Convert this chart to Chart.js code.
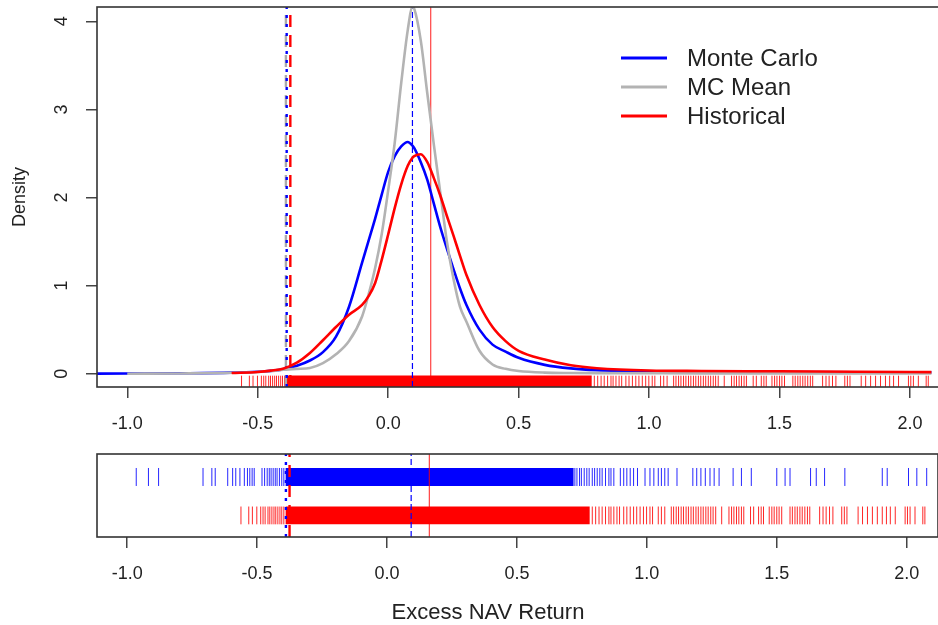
<!DOCTYPE html>
<html>
<head>
<meta charset="utf-8">
<script src="https://cdn.jsdelivr.net/npm/chart.js@4.4.0/dist/chart.umd.min.js"></script>
<style>
  html, body { margin: 0; padding: 0; background: #fff; overflow: hidden; }
  #densityChart { position: absolute; left: 0; top: 0; }
  #rugChart { position: absolute; left: 0; top: 440px; }
</style>
</head>
<body>
<canvas id="densityChart" width="938" height="440"></canvas>
<canvas id="rugChart" width="938" height="185"></canvas>
<script>
// Series names and colours
const seriesNames = ['Monte Carlo', 'MC Mean', 'Historical'];
const seriesColors = ['#0000ff', '#b3b3b3', '#ff0000'];

// Density curves
const densityX = [-1.2, -1.0, -0.8, -0.6, -0.5, -0.45, -0.4, -0.35, -0.3, -0.25, -0.2, -0.15, -0.1, -0.075, -0.05, -0.025,
  0, 0.025, 0.05, 0.075, 0.093, 0.1, 0.125, 0.15, 0.175, 0.2, 0.225, 0.25, 0.275, 0.3, 0.35, 0.4, 0.45, 0.5,
  0.6, 0.7, 0.8, 1.0, 1.2, 1.5, 1.8, 2.1];
const monteCarloDensity = [0, 0.002, 0.005, 0.012, 0.022, 0.032, 0.052, 0.09, 0.15, 0.245, 0.42, 0.76, 1.26, 1.51, 1.76, 2.03,
  2.29, 2.47, 2.58, 2.63, 2.59, 2.56, 2.40, 2.20, 1.93, 1.66, 1.42, 1.19, 0.97, 0.78, 0.50, 0.33, 0.25, 0.18,
  0.10, 0.06, 0.04, 0.025, 0.021, 0.018, 0.016, 0.015];
const mcMeanDensity = [null, 0.0, 0.003, 0.01, 0.02, 0.03, 0.045, 0.055, 0.065, 0.12, 0.22, 0.37, 0.65, 0.90, 1.20, 1.58,
  2.08, 2.62, 3.30, 3.90, 4.16, 4.14, 3.78, 3.18, 2.60, 2.05, 1.50, 1.08, 0.76, 0.59, 0.26, 0.105, 0.055, 0.03,
  0.012, 0.008, 0.006, 0.005, 0.004, 0.004, 0.003, 0.003];
const historicalDensity = [null, null, null, 0.008, 0.02, 0.035, 0.06, 0.125, 0.235, 0.38, 0.53, 0.67, 0.78, 0.88, 1.03, 1.29,
  1.58, 1.88, 2.15, 2.36, 2.45, 2.47, 2.49, 2.40, 2.22, 2.02, 1.79, 1.57, 1.34, 1.12, 0.78, 0.53, 0.37, 0.26,
  0.16, 0.095, 0.062, 0.036, 0.031, 0.027, 0.022, 0.018];

// Reference lines (VaR and means)
const mcVaR = -0.389;
const mcMeanVaR = -0.392;
const histVaR = -0.375;
const mcMeanReturn = 0.093;
const histMeanReturn = 0.163;

// Rug ticks: sparse ticks read one by one, dense middle as a solid band
const mcRug = [-0.965, -0.918, -0.879, -0.708, -0.674, -0.661, -0.613, -0.594, -0.582, -0.566, -0.549, -0.537, -0.528,
  -0.519, -0.511, -0.481, -0.471, -0.461, -0.453, -0.446, -0.438, -0.430, -0.423, -0.414, -0.405, -0.397,
  0.723, 0.731, 0.741, 0.748, 0.759, 0.769, 0.778, 0.790, 0.799, 0.809, 0.819, 0.828, 0.841, 0.854, 0.862, 0.873,
  0.898, 0.911, 0.923, 0.936, 0.949, 0.964, 0.993, 1.012, 1.027, 1.044, 1.056, 1.069, 1.082, 1.116, 1.177, 1.192,
  1.208, 1.225, 1.243, 1.259, 1.278, 1.332, 1.364, 1.402, 1.500, 1.532, 1.551, 1.630, 1.652, 1.684, 1.762, 1.906,
  1.925, 2.007, 2.039, 2.077];
const mcRugDense = [-0.39, 0.718];
const histRug = [-0.562, -0.532, -0.518, -0.501, -0.486, -0.477, -0.469, -0.458, -0.451, -0.443, -0.435, -0.428,
  -0.420, -0.412, -0.405, -0.397,
  0.790, 0.803, 0.816, 0.828, 0.841, 0.854, 0.862, 0.873, 0.885, 0.895, 0.911, 0.923, 0.936, 0.949, 0.961, 0.974,
  0.987, 0.999, 1.012, 1.022, 1.044, 1.056, 1.069, 1.094, 1.103, 1.113, 1.122, 1.132, 1.141, 1.151, 1.160, 1.170,
  1.179, 1.189, 1.198, 1.208, 1.217, 1.227, 1.236, 1.246, 1.255, 1.265, 1.288, 1.316, 1.326, 1.335, 1.345, 1.354,
  1.364, 1.373, 1.399, 1.411, 1.430, 1.440, 1.449, 1.471, 1.481, 1.490, 1.500, 1.509, 1.519, 1.551, 1.560, 1.570,
  1.579, 1.589, 1.598, 1.608, 1.618, 1.627, 1.665, 1.678, 1.690, 1.703, 1.716, 1.750, 1.760, 1.770, 1.813, 1.830,
  1.849, 1.868, 1.887, 1.906, 1.922, 1.937, 1.956, 1.994, 2.003, 2.013, 2.032, 2.062, 2.070];
const histRugDense = [-0.39, 0.78];

// Axis settings
const xMin = -1.116, xMax = 2.082;
const densityMin = -0.151, densityMax = 4.162;
const xTitle = 'Excess NAV Return';
const yTitle = 'Density';

const FONT = '"Liberation Sans", Arial, Helvetica, sans-serif';
const TEXT = '#222';
const AXIS = '#444';
Chart.defaults.font.family = FONT;
Chart.defaults.color = TEXT;

function curve(ys) {
  return densityX.map((x, i) => ({ x: x, y: ys[i] })).filter(p => p.y !== null);
}

function vline(x, y0, y1, color, width, dash, order) {
  return {
    type: 'line', data: [{ x: x, y: y0 }, { x: x, y: y1 }],
    borderColor: color, borderWidth: width, borderDash: dash,
    pointRadius: 0, order: order
  };
}

function rug(values, y, half, color, order) {
  return {
    type: 'scatter', data: values.map(v => ({ x: v, y: y })),
    pointStyle: 'line', rotation: 90, radius: half, pointRadius: half,
    borderColor: color, pointBorderColor: color, borderWidth: 1, pointBorderWidth: 1,
    order: order
  };
}

function band(range, y, height, color, order) {
  return {
    type: 'line', data: [{ x: range[0], y: y }, { x: range[1], y: y }],
    borderColor: color, borderWidth: height, borderCapStyle: 'butt',
    pointRadius: 0, order: order
  };
}

// Box around the plot region (right side runs off the page)
const boxPlugin = {
  id: 'box',
  afterDatasetsDraw(chart) {
    const { ctx, chartArea: a } = chart;
    ctx.save();
    ctx.strokeStyle = '#333';
    ctx.lineWidth = 1.6;
    ctx.strokeRect(a.left, a.top, a.right - a.left + 10, a.bottom - a.top);
    ctx.restore();
  }
};

// Legend in R style (no box)
const legendPlugin = {
  id: 'rLegend',
  afterDraw(chart) {
    const ctx = chart.ctx;
    ctx.save();
    ctx.font = '24px ' + FONT;
    ctx.textBaseline = 'middle';
    seriesNames.forEach((name, i) => {
      const y = 58 + i * 29;
      ctx.strokeStyle = seriesColors[i];
      ctx.lineWidth = 3;
      ctx.beginPath();
      ctx.moveTo(621, y);
      ctx.lineTo(667, y);
      ctx.stroke();
      ctx.fillStyle = TEXT;
      ctx.fillText(name, 687, y + 1);
    });
    ctx.restore();
  }
};

// x-axis title, placed where R put it
const xTitlePlugin = {
  id: 'xTitle',
  afterDraw(chart) {
    const ctx = chart.ctx;
    ctx.save();
    ctx.font = '22px ' + FONT;
    ctx.fillStyle = TEXT;
    ctx.textAlign = 'center';
    ctx.textBaseline = 'middle';
    ctx.fillText(xTitle, 488, 173);
    ctx.restore();
  }
};

function xScale(extra) {
  return Object.assign({
    type: 'linear', min: xMin, max: xMax,
    ticks: {
      stepSize: 0.5, includeBounds: false, autoSkip: false, maxRotation: 0,
      callback: v => v.toFixed(1), font: { size: 18 }, color: TEXT, padding: 15
    },
    grid: { drawOnChartArea: false, tickLength: 11, color: AXIS, lineWidth: 1.5 },
    border: { display: false }
  }, extra);
}

const common = {
  responsive: false,
  animation: false,
  events: [],
  plugins: { legend: { display: false }, tooltip: { enabled: false } }
};

// Top panel: densities
new Chart(document.getElementById('densityChart').getContext('2d'), {
  type: 'line',
  data: {
    datasets: [
      { label: seriesNames[2], data: curve(historicalDensity), borderColor: seriesColors[2], borderWidth: 2.6,
        pointRadius: 0, cubicInterpolationMode: 'monotone', order: 1 },
      { label: seriesNames[1], data: curve(mcMeanDensity), borderColor: seriesColors[1], borderWidth: 2.6,
        pointRadius: 0, cubicInterpolationMode: 'monotone', order: 2 },
      { label: seriesNames[0], data: curve(monteCarloDensity), borderColor: seriesColors[0], borderWidth: 2.6,
        pointRadius: 0, cubicInterpolationMode: 'monotone', order: 3 },
      vline(histVaR, densityMin, densityMax, seriesColors[2], 2.4, [12, 8], 4),
      vline(mcVaR, densityMin, densityMax, seriesColors[0], 2.4, [3, 6], 5),
      vline(mcMeanVaR, densityMin, densityMax, '#aaaaaa', 2.4, [12, 8], 6),
      vline(mcMeanReturn, densityMin, densityMax, seriesColors[0], 1.2, [6, 3], 7),
      vline(histMeanReturn, densityMin, densityMax, 'rgba(255,0,0,0.75)', 1.2, [], 8),
      rug(histRug, -0.086, 5.6, 'rgba(255,0,0,0.85)', 9),
      band(histRugDense, -0.086, 11.3, seriesColors[2], 9)
    ]
  },
  options: Object.assign({}, common, {
    layout: { padding: { top: 7, left: 0, right: 0, bottom: 0 } },
    scales: {
      x: xScale({ afterFit: s => { s.height = 53; } }),
      y: {
        min: densityMin, max: densityMax,
        ticks: {
          stepSize: 1, includeBounds: false, minRotation: 90, maxRotation: 90, crossAlign: 'center',
          padding: 19, font: { size: 18 }, color: TEXT
        },
        grid: { drawOnChartArea: false, tickLength: 11, color: AXIS, lineWidth: 1.5 },
        border: { display: false },
        title: { display: true, text: yTitle, font: { size: 18 }, color: TEXT, padding: { top: 9, bottom: 0 } },
        afterFit: s => { s.width = 97; s.paddingTop = 0; s.paddingBottom = 0; }
      }
    }
  }),
  plugins: [boxPlugin, legendPlugin]
});

// Bottom panel: rug of both samples
new Chart(document.getElementById('rugChart').getContext('2d'), {
  type: 'scatter',
  data: {
    datasets: [
      vline(histVaR, 0, 1, seriesColors[2], 2.4, [12, 8], 1),
      vline(mcVaR, 0, 1, seriesColors[0], 2.4, [3, 6], 2),
      vline(mcMeanReturn, 0, 1, seriesColors[0], 1.2, [6, 3], 3),
      vline(histMeanReturn, 0, 1, 'rgba(255,0,0,0.75)', 1.2, [], 4),
      rug(mcRug, 0.723, 9, 'rgba(0,0,255,0.85)', 5),
      band(mcRugDense, 0.723, 18, seriesColors[0], 5),
      rug(histRug, 0.26, 8.9, 'rgba(255,0,0,0.85)', 6),
      band(histRugDense, 0.26, 17.8, seriesColors[2], 6)
    ]
  },
  options: Object.assign({}, common, {
    layout: { padding: { top: 14, left: 0, right: 0, bottom: 0 } },
    scales: {
      x: xScale({ afterFit: s => { s.height = 88; } }),
      y: {
        min: 0, max: 1,
        ticks: { display: false },
        grid: { display: false },
        border: { display: false },
        afterFit: s => { s.width = 97; s.paddingTop = 0; s.paddingBottom = 0; }
      }
    }
  }),
  plugins: [boxPlugin, xTitlePlugin]
});
</script>
</body>
</html>
